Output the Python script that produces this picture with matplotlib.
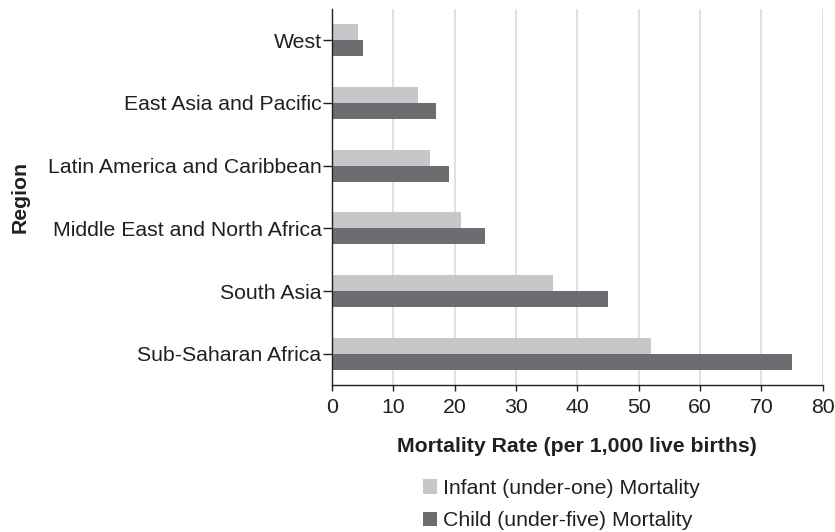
import matplotlib.pyplot as plt
import numpy as np

# data
regions = [
    "West",
    "East Asia and Pacific",
    "Latin America and Caribbean",
    "Middle East and North Africa",
    "South Asia",
    "Sub-Saharan Africa",
]
infant_mortality = [4.2, 14, 16, 21, 36, 52]
child_mortality = [5, 17, 19, 25, 45, 75]
x_ticks = [0, 10, 20, 30, 40, 50, 60, 70, 80]

light_gray = "#c6c7c9"
dark_gray = "#6c6d71"
text_color = "#231f20"
fs = 15.3

plt.rcParams["font.family"] = ["Liberation Sans", "DejaVu Sans"]

fig = plt.figure(figsize=(8.35, 5.32), dpi=100)
ax = fig.add_axes([0.3976, 0.2763, 0.5877, 0.7068])

y = np.arange(len(regions))
bar_h = 0.255
ax.barh(y - bar_h / 2, infant_mortality, height=bar_h, color=light_gray,
        label="Infant (under-one) Mortality", zorder=2)
ax.barh(y + bar_h / 2, child_mortality, height=bar_h, color=dark_gray,
        label="Child (under-five) Mortality", zorder=2)

ax.set_ylim(len(regions) - 0.5, -0.5)
ax.set_xlim(0, 80)
ax.set_yticks(y)
ax.set_yticklabels(regions, fontsize=fs, color=text_color)
ax.set_xticks(x_ticks)
ax.set_xticklabels([str(t) for t in x_ticks], fontsize=fs, color=text_color)

ax.grid(axis="x", color="#dcdcdc", linewidth=1.2, zorder=0)
ax.set_axisbelow(True)
for side in ["top", "right"]:
    ax.spines[side].set_visible(False)
for side in ["left", "bottom"]:
    ax.spines[side].set_color(text_color)
    ax.spines[side].set_linewidth(1.0)
ax.tick_params(axis="y", length=6.5, width=1.0, color=text_color, pad=1)
ax.tick_params(axis="x", length=4, width=1.0, color=text_color, pad=5)

ax.set_xlabel("Mortality Rate (per 1,000 live births)", fontsize=fs,
              fontweight="bold", color=text_color, labelpad=15)
ax.set_ylabel("Region", fontsize=fs, fontweight="bold", color=text_color)
ax.yaxis.set_label_coords(-0.616, 0.5)

handles, labels = ax.get_legend_handles_labels()
fig.legend(handles, labels, loc="upper left", bbox_to_anchor=(0.5066, 0.0995),
           frameon=False, fontsize=fs, handlelength=0.66, handleheight=0.66,
           handletextpad=0.28, labelspacing=0.62, borderaxespad=0, borderpad=0,
           labelcolor=text_color)

fig.savefig("out.png", dpi=100)
